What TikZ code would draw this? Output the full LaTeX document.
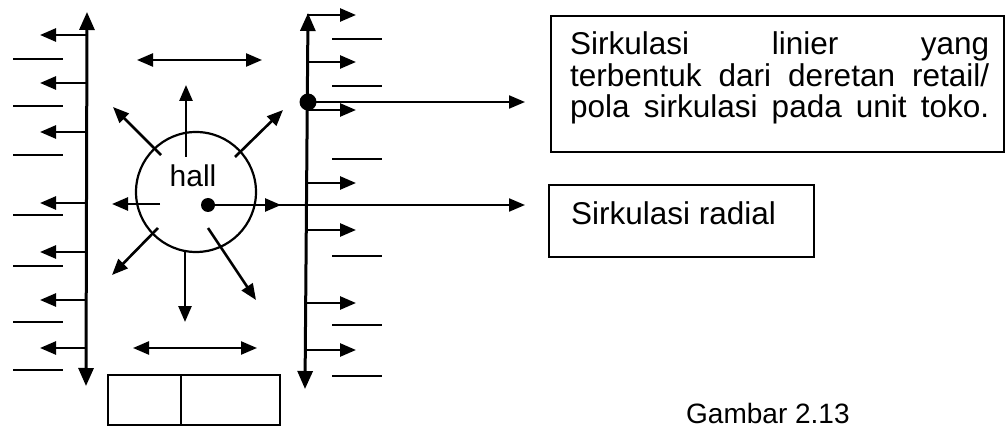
\documentclass[tikz,border=0pt]{standalone}
\usepackage{fontspec}
\setmainfont{Liberation Sans}
\usetikzlibrary{arrows.meta}
\tikzset{
  tip/.style={-{Triangle[length=16pt,width=13pt]}},
  dtip/.style={{Triangle[length=16pt,width=13pt]}-{Triangle[length=16pt,width=13pt]}},
  mainline/.style={line width=3pt},
  branch/.style={line width=2.6pt,tip},
  tick/.style={line width=2.2pt},
  boxline/.style={draw,line width=1.8pt,inner sep=0pt},
  txt/.style={inner sep=0pt,anchor=base west,font=\fontsize{31.5}{31}\selectfont},
  txtb/.style={inner sep=0pt,anchor=base west,font=\fontsize{28}{30}\selectfont},
}
\begin{document}
\begin{tikzpicture}[x=1pt,y=-1pt]
\useasboundingbox (0,0) rectangle (1008,427);
% left corridor
\coordinate (Lt) at (87,12);
\coordinate (Lb) at (86,386);
\draw[mainline,{Triangle[length=18pt,width=15pt]}-{Triangle[length=18pt,width=15pt]}] (Lb) -- (Lt);
\foreach \y in {35,83,132,203,252,300,348} \draw[branch] (86,\y) -- (40,\y);
\foreach \y in {59,106,155,215,266,322,370} \draw[tick] (13,\y) -- (63,\y);
% right corridor
\coordinate (Rt) at (308,13);
\coordinate (Rb) at (305,389);
\draw[mainline,{Triangle[length=18pt,width=15pt]}-{Triangle[length=18pt,width=15pt]}] (Rb) -- (Rt);
\foreach \y in {15,62,110,183,230,303,350} \draw[branch] (307,\y) -- (356,\y);
\foreach \y in {39,86,159,256,325,376} \draw[tick] (332,\y) -- (382,\y);
% hall
\node[circle,draw,line width=2.2pt,minimum size=120pt,inner sep=0pt] (hall) at (196,192) {};
\node[inner sep=0pt,font=\fontsize{30}{30}\selectfont] (hl) at (193,176) {hall};
\coordinate (hd) at (208,205);
\fill (hd) circle (7pt);
% radial arrows
\draw[branch] (186,157) -- (186,85);
\draw[branch] (161,155) -- (113,107);
\draw[branch] (235,157) -- (283,110);
\draw[branch] (160,204) -- (112,204);
\draw[branch] (208,205) -- (281,205);
\draw[branch] (158,228) -- (112,275);
\draw[branch] (185,252) -- (185,322);
\draw[branch] (208,228) -- (256,300);
% horizontal double arrows
\draw[line width=2.4pt,dtip] (137,60) -- (262,60);
\draw[line width=2.4pt,dtip] (133,348) -- (257,348);
% entrance box
\draw[line width=1.8pt] (108,375) rectangle (280,425);
\draw[line width=1.8pt] (181,375) -- (181,425);
% right dot
\coordinate (rd) at (308,102);
\fill (rd) circle (8.5pt);
% boxes
\node[boxline,minimum width=453pt,minimum height=136pt] (box1) at (777.5,84) {};
\node[boxline,minimum width=265pt,minimum height=72pt] (box2) at (681.5,221) {};
\node[txt] (t1) at (570,55) {\makebox[419pt][s]{Sirkulasi linier yang}};
\node[txt] (t2) at (570,87) {\makebox[419pt][s]{terbentuk dari deretan retail/}};
\node[txt] (t3) at (570,118) {\makebox[419pt][s]{pola sirkulasi pada unit toko.}};
\node[txt] (t4) at (571,225) {Sirkulasi radial};
\coordinate (a1) at (525,102);
\coordinate (a2) at (525,205);
\draw[line width=2.2pt,tip] (rd) -- (a1);
\draw[line width=2.2pt,tip] (hd) -- (a2);
\node[txtb] (cap) at (686,423) {Gambar 2.13};
\end{tikzpicture}
\end{document}
